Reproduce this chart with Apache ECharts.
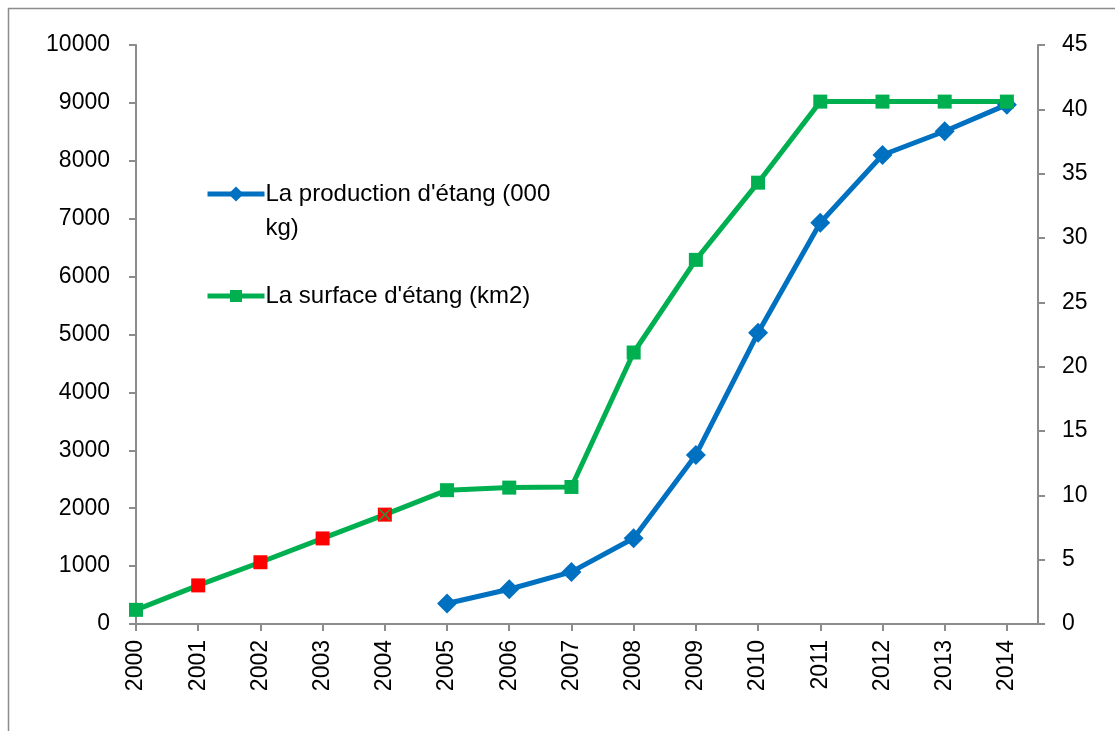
<!DOCTYPE html>
<html><head><meta charset="utf-8">
<script src="https://cdn.jsdelivr.net/npm/echarts@6/dist/echarts.min.js"></script>
<style>html,body{margin:0;padding:0;background:#fff}#c{width:1115px;height:731px}</style>
</head><body><div id="c"></div>
<script>
const years = [2000,2001,2002,2003,2004,2005,2006,2007,2008,2009,2010,2011,2012,2013,2014];
const production = [null,null,null,null,null,355,600,900,1480,2920,5030,6930,8100,8510,8970];
const surface = [1.1,3.0,4.8,6.65,8.5,10.4,10.6,10.65,21.1,28.3,34.3,40.6,40.6,40.6,40.6];
const redYears = [2001,2002,2003,2004];
const nameProd = "La production d'étang (000 kg)";
const nameSurf = "La surface d'étang (km2)";

const FONT = 'Liberation Sans';
const chart = echarts.init(document.getElementById('c'));
const axisLineStyle = {color:'#8c8c8c', width:2};
chart.setOption({
  animation:false,
  textStyle:{fontFamily:FONT},
  grid:{left:136, right:77, top:45, bottom:107},
  graphic:[{type:'rect', shape:{x:8.5,y:8.5,width:1200,height:800}, style:{fill:null, stroke:'#8c8c8c', lineWidth:1.5}, silent:true}],
  legend:[
    {left:205, top:143, padding:0, orient:'vertical', data:[nameProd], itemWidth:57, itemHeight:19, itemGap:0,
     lineStyle:{width:5},
     textStyle:{fontSize:24, color:'#000', fontFamily:FONT, lineHeight:34, padding:[0,0,0,-4]},
     formatter: n => ' \n' + n.replace('(000 kg)','(000\nkg)'), selectedMode:false},
    {left:205, top:284, padding:0, orient:'vertical', data:[nameSurf], itemWidth:57, itemHeight:15,
     lineStyle:{width:5},
     textStyle:{fontSize:24, color:'#000', fontFamily:FONT, padding:[0,0,0,-4]}, selectedMode:false}
  ],
  xAxis:{type:'value', min:2000, max:2014.5, interval:1,
    axisLine:{lineStyle:axisLineStyle},
    axisTick:{show:true, length:7, lineStyle:axisLineStyle, customValues:years},
    axisLabel:{rotate:90, margin:16, fontSize:23, color:'#000', fontFamily:FONT, customValues:years, formatter: v => String(v)},
    splitLine:{show:false}},
  yAxis:[
    {type:'value', min:0, max:10000, interval:1000, position:'left',
     axisLine:{show:true, lineStyle:axisLineStyle},
     axisTick:{show:true, length:7, lineStyle:axisLineStyle},
     axisLabel:{margin:26, fontSize:23, color:'#000', fontFamily:FONT, formatter: v => String(v)},
     splitLine:{show:false}},
    {type:'value', min:0, max:45, interval:5, position:'right',
     axisLine:{show:true, lineStyle:axisLineStyle},
     axisTick:{show:true, length:7, lineStyle:axisLineStyle},
     axisLabel:{margin:24, fontSize:23, color:'#000', fontFamily:FONT, formatter: v => String(v)},
     splitLine:{show:false}}
  ],
  series:[
    {name:nameProd, type:'line', yAxisIndex:0,
     data: years.map((y,i)=>[y,production[i]]),
     symbol:'diamond', symbolSize:20, showSymbol:true,
     lineStyle:{color:'#0070C0', width:5}, itemStyle:{color:'#0070C0'}, connectNulls:false},
    {name:nameSurf, type:'line', yAxisIndex:1,
     data: years.map((y,i)=>{
       const d = {value:[y,surface[i]]};
       if (redYears.includes(y)) d.itemStyle = {color:'#FF0000'};
       return d;
     }),
     symbol:'rect', symbolSize:14, showSymbol:true,
     lineStyle:{color:'#00B050', width:5}, itemStyle:{color:'#00B050'}},
    {type:'scatter', yAxisIndex:1, silent:true, z:5,
     data:[[2004, surface[4]]],
     symbol:'path://M0,1L1,0L5,4L9,0L10,1L6,5L10,9L9,10L5,6L1,10L0,9L4,5Z',
     symbolSize:12, itemStyle:{color:'#00B050'}}
  ]
});
</script></body></html>
